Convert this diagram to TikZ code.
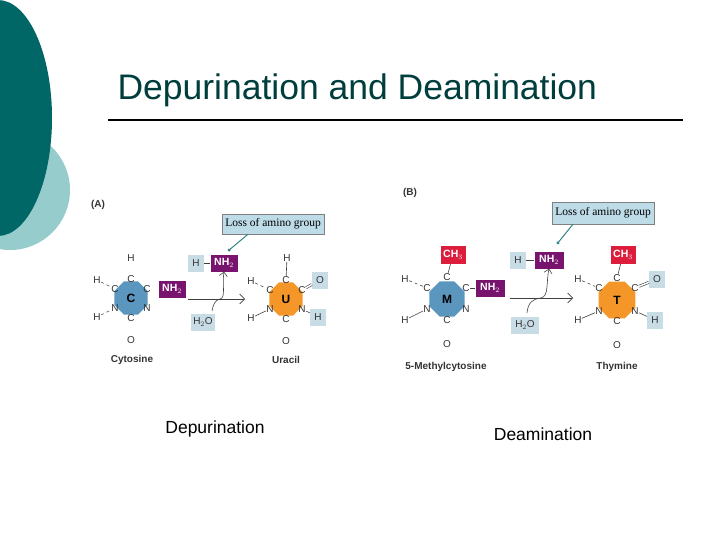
\documentclass[tikz,border=0pt]{standalone}
\usepackage{fontspec}
\setmainfont{Liberation Sans}
\newfontfamily\serifx{Liberation Serif}
\usetikzlibrary{shapes.geometric,arrows.meta}
\definecolor{tealdark}{RGB}{0,102,102}
\definecolor{teallight}{RGB}{150,204,204}
\definecolor{ringblue}{RGB}{90,150,190}
\definecolor{ringorange}{RGB}{245,150,40}
\definecolor{purp}{RGB}{120,20,110}
\definecolor{redbox}{RGB}{220,30,60}
\definecolor{paleblue}{RGB}{200,220,230}
\definecolor{lossblue}{RGB}{190,220,232}
\tikzset{
 atom/.style={font=\fontsize{10}{10}\selectfont, inner sep=0.3pt, text=black!80},
 ringshape/.style={regular polygon, regular polygon sides=8, minimum size=36pt, inner sep=0pt, font=\fontsize{12}{12}\selectfont\bfseries},
 pbox/.style={fill=purp, text=white, font=\fontsize{10.5}{10}\selectfont\bfseries, minimum width=27pt, minimum height=17pt, inner sep=1pt},
 rbox/.style={fill=redbox, text=white, font=\fontsize{10.5}{10}\selectfont\bfseries, minimum width=25pt, minimum height=18pt, inner sep=1pt},
 gbox/.style={fill=paleblue, text=black!80, font=\fontsize{10}{10}\selectfont, minimum width=16pt, minimum height=17pt, inner sep=1pt},
 lossbox/.style={fill=lossblue, draw=black!50, font=\serifx\fontsize{11.5}{12}\selectfont, minimum height=20pt, inner sep=3pt},
 hb/.style={dashed, black!70, line width=0.6pt},
 bd/.style={black!75, line width=0.6pt},
 dbl/.style={bd, double, double distance=1.5pt},
 lab/.style={font=\fontsize{10}{10}\selectfont\bfseries, text=black!80},
 big/.style={font=\fontsize{17.5}{20}\selectfont}
}
\begin{document}
\begin{tikzpicture}[x=1pt,y=-1pt]
\useasboundingbox (0,0) rectangle (720,540);
\fill[teallight] (10,190) circle (60);
\fill[tealdark] (-2,118) ellipse (54 and 118);
\node[font=\fontsize{35.5}{38}\selectfont, text=tealdark!60!black, anchor=west] (title) at (114,90) {Depurination and Deamination};
\coordinate (l1) at (108,120); \coordinate (l2) at (683,120);
\draw[line width=1.2pt] (l1) -- (l2);

% ===== Panel A =====
\node[lab] (pa) at (98,205) {(A)};
\node[ringshape, fill=ringblue] (cr) at (131,298) {C};
\node[atom] (c1) at (131,279) {C};
\node[atom] (c2) at (115,289) {C};
\node[atom] (c3) at (147,289) {C};
\node[atom] (c4) at (147,308) {N};
\node[atom] (c5) at (115,308) {N};
\node[atom] (c6) at (131,318) {C};
\node[atom] (co) at (131,340) {O};
\node[atom] (ch) at (131,258) {H};
\node[atom] (ch1) at (97,280) {H};
\node[atom] (ch2) at (97,317) {H};
\draw[hb] (ch1) -- (c2); \draw[hb] (ch2) -- (c5);
\draw[dbl] (c6) -- (co);
\node[pbox] (anh) at (172,289) {NH$_2$};
\node[gbox] (ah) at (196,263) {H};
\node[pbox] (anh2) at (224,263) {NH$_2$};
\draw[bd] (ah) -- (anh2);
\coordinate (aa1) at (188,299); \coordinate (aa2) at (245,299);
\draw[-{Straight Barb[length=5pt]}, bd] (aa1) -- (aa2);
\node[gbox, minimum width=24pt] (ah2o) at (203,322) {H$_2$O};
\coordinate (am) at (220,299);
\draw[bd] (212,311) .. controls (213,305) and (215,300) .. (am);
\draw[bd,-{Straight Barb[length=4pt]}] (am) .. controls (226,298) and (222,285) .. (anh2.south);
\node[lossbox] (aloss) at (273,224) {Loss of amino group};
\draw[tealdark!80, line width=1pt, -{Circle[length=3pt]}] (aloss.south) ++(-25,0) -- (228,251);
\node[ringshape, fill=ringorange] (ur) at (286,299) {U};
\node[atom] (u1) at (286,280) {C};
\node[atom] (u2) at (270,290) {C};
\node[atom] (u3) at (302,290) {C};
\node[atom] (u4) at (302,309) {N};
\node[atom] (u5) at (270,309) {N};
\node[atom] (u6) at (286,319) {C};
\node[atom] (uo) at (286,341) {O};
\node[atom] (uh) at (287,258) {H};
\node[atom] (uh1) at (251,281) {H};
\node[atom] (uh2) at (251,318) {H};
\node[gbox] (uob) at (320,280) {O};
\node[gbox] (uhb) at (318,317) {H};
\draw[bd] (uh) -- (u1); \draw[hb] (uh1) -- (u2); \draw[bd] (uh2) -- (u5);
\draw[bd] (u4) -- (uhb); \draw[dbl] (u3) -- (uob);
\draw[dbl] (u6) -- (uo);
\node[lab] (acy) at (132,360) {Cytosine};
\node[lab] (aur) at (286,360) {Uracil};

% ===== Panel B =====
\node[lab] (pb) at (410,193) {(B)};
\node[ringshape, fill=ringblue, minimum size=38pt] (mr) at (447,299) {M};
\node[atom] (m1) at (447,277) {C};
\node[atom] (m2) at (427,288) {C};
\node[atom] (m3) at (466,288) {C};
\node[atom] (m4) at (466,309) {N};
\node[atom] (m5) at (427,309) {N};
\node[atom] (m6) at (447,320) {C};
\node[atom] (mo) at (447,344) {O};
\node[rbox] (mch) at (453,255) {CH$_3$};
\node[atom] (mh1) at (405,279) {H};
\node[atom] (mh2) at (405,320) {H};
\node[pbox, minimum width=29pt] (mnh) at (490,288) {NH$_2$};
\draw[bd] (mch) -- (m1); \draw[hb] (mh1) -- (m2); \draw[bd] (mh2) -- (m5);
\draw[bd] (m3) -- (mnh); \draw[dbl] (m6) -- (mo);
\node[gbox] (bh) at (518,260) {H};
\node[pbox, minimum width=29pt] (bnh2) at (549,260) {NH$_2$};
\draw[bd] (bh) -- (bnh2);
\coordinate (ba1) at (510,298); \coordinate (ba2) at (573,298);
\draw[-{Straight Barb[length=5pt]}, bd] (ba1) -- (ba2);
\node[gbox, minimum width=28pt] (bh2o) at (525,325) {H$_2$O};
\coordinate (bm) at (541,298);
\draw[bd] (527,313) .. controls (528,303) and (532,299) .. (bm);
\draw[bd,-{Straight Barb[length=4pt]}] (bm) .. controls (549,296) and (546,283) .. (bnh2.south);
\node[lossbox, minimum height=22pt] (bloss) at (603,213) {Loss of amino group};
\draw[tealdark!80, line width=1pt, -{Circle[length=3pt]}] (bloss.south) ++(-30,0) -- (557,244);
\node[ringshape, fill=ringorange, minimum size=40pt] (tr) at (617,300) {T};
\node[atom] (t1) at (617,278) {C};
\node[atom] (t2) at (599,288) {C};
\node[atom] (t3) at (635,288) {C};
\node[atom] (t4) at (635,311) {N};
\node[atom] (t5) at (599,311) {N};
\node[atom] (t6) at (617,321) {C};
\node[atom] (to) at (617,345) {O};
\node[rbox] (tch) at (623,255) {CH$_3$};
\node[atom] (th1) at (578,279) {H};
\node[atom] (th2) at (578,320) {H};
\node[gbox] (tob) at (657,279) {O};
\node[gbox] (thb) at (655,320) {H};
\draw[bd] (tch) -- (t1); \draw[hb] (th1) -- (t2); \draw[bd] (th2) -- (t5);
\draw[bd] (t4) -- (thb); \draw[dbl] (t3) -- (tob);
\draw[dbl] (t6) -- (to);
\node[lab] (bmc) at (446,367) {5-Methylcytosine};
\node[lab] (bth) at (617,367) {Thymine};

\node[big] (dep) at (215,429) {Depurination};
\node[big] (dea) at (543,434) {Deamination};
\end{tikzpicture}
\end{document}
